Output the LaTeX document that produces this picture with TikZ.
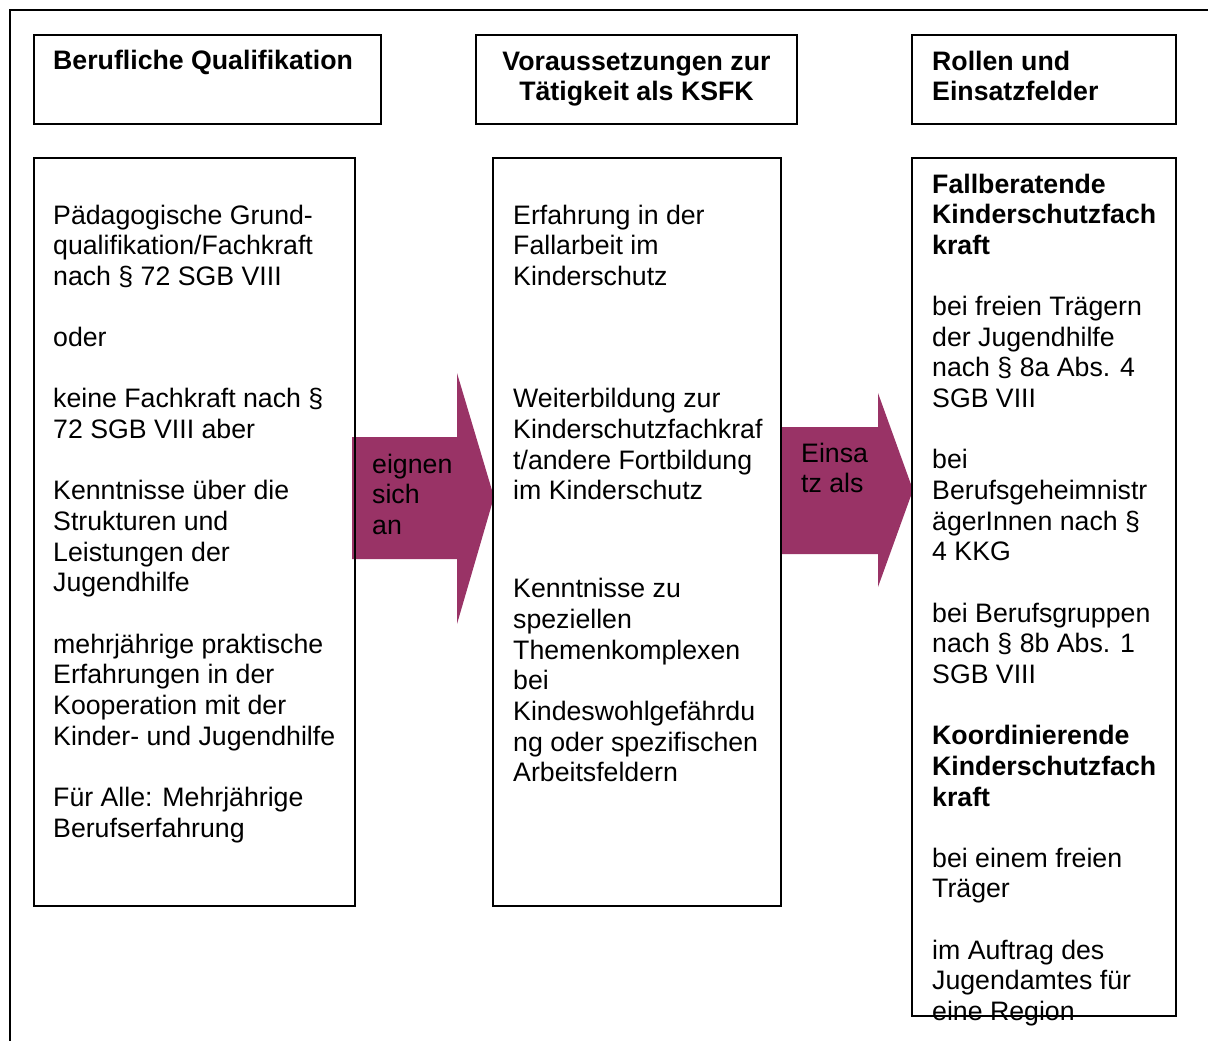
\documentclass[tikz,border=0pt]{standalone}
\usepackage{fontspec}
\setmainfont{Liberation Sans}
\definecolor{plum}{RGB}{153,51,102}
\tikzset{
  frm/.style={line width=1.6pt, draw=black},
  bx/.style={line width=1.6pt, draw=black, inner sep=0pt, outer sep=0pt, anchor=north west},
  arr/.style={fill=plum, draw=none},
  txt/.style={inner sep=0pt, anchor=base west, align=left, font=\fontsize{26.7}{30.65}\selectfont},
  ctxt/.style={inner sep=0pt, anchor=base, align=center, font=\fontsize{26.7}{30.65}\selectfont\bfseries},
}
\begin{document}
\begin{tikzpicture}[x=1pt,y=-1pt]
\useasboundingbox (0,0) rectangle (1208,1041);
% outer frame
\coordinate (fA) at (10,1041);
\coordinate (fB) at (10,10);
\coordinate (fC) at (1208,10);
\draw[frm] (fA) -- (fB) -- (fC);
% arrows
\fill[arr] (352,437) -- (457,437) -- (457,373) -- (494,497) -- (457,624) -- (457,559) -- (352,559) -- cycle;
\fill[arr] (780,427) -- (878,427) -- (878,393) -- (913,490) -- (878,587) -- (878,554) -- (780,554) -- cycle;
% header boxes
\node[bx, minimum width=347pt, minimum height=89pt] (h1) at (34,35) {};
\node[bx, minimum width=321pt, minimum height=89pt] (h2) at (476,35) {};
\node[bx, minimum width=264pt, minimum height=89pt] (h3) at (912,35) {};
% body boxes
\node[bx, minimum width=321pt, minimum height=748pt] (b1) at (34,158) {};
\node[bx, minimum width=288pt, minimum height=748pt] (b2) at (493,158) {};
\node[bx, minimum width=264pt, minimum height=858pt] (b3) at (912,158) {};
% header texts (anchor = baseline of last line)
\node[txt, font=\fontsize{26.7}{30.65}\selectfont\bfseries] (t1) at (53,70) {Berufliche Qualifikation};
\node[ctxt] (t2) at (636.5,100.65) {Voraussetzungen zur\\Tätigkeit als KSFK};
\node[txt, font=\fontsize{26.7}{30.65}\selectfont\bfseries] (t3) at (932,100.65) {Rollen und\\Einsatzfelder};
% body texts
\node[txt] (c1) at (53,837) {Pädagogische Grund-\\qualifikation/Fachkraft\\nach § 72 SGB VIII\\[30.65pt]oder\\[30.65pt]keine Fachkraft nach §\\72 SGB VIII aber\\[30.65pt]Kenntnisse über die\\Strukturen und\\Leistungen der\\Jugendhilfe\\[30.65pt]mehrjährige praktische\\Erfahrungen in der\\Kooperation mit der\\Kinder- und Jugendhilfe\\[30.65pt]Für Alle: Mehrjährige\\Berufserfahrung};
\node[txt] (c2) at (513,781.8) {Erfahrung in der\\Fallarbeit im\\Kinderschutz\\[91.95pt]Weiterbildung zur\\Kinderschutzfachkraf\\t/andere Fortbildung\\im Kinderschutz\\[67.4pt]Kenntnisse zu\\speziellen\\Themenkomplexen\\bei\\Kindeswohlgefährdu\\ng oder spezifischen\\Arbeitsfeldern};
\node[txt] (c3) at (932,1020.55) {\textbf{Fallberatende}\\\textbf{Kinderschutzfach}\\\textbf{kraft}\\[30.65pt]bei freien Trägern\\der Jugendhilfe\\nach § 8a Abs. 4\\SGB VIII\\[30.65pt]bei\\Berufsgeheimnistr\\ägerInnen nach §\\4 KKG\\[30.65pt]bei Berufsgruppen\\nach § 8b Abs. 1\\SGB VIII\\[30.65pt]\textbf{Koordinierende}\\\textbf{Kinderschutzfach}\\\textbf{kraft}\\[30.65pt]bei einem freien\\Träger\\[30.65pt]im Auftrag des\\Jugendamtes für\\eine Region};
% arrow labels
\node[txt] (a1) at (372,534.3) {eignen\\sich\\an};
\node[txt] (a2) at (801,492.65) {Einsa\\tz als};
\end{tikzpicture}
\end{document}
